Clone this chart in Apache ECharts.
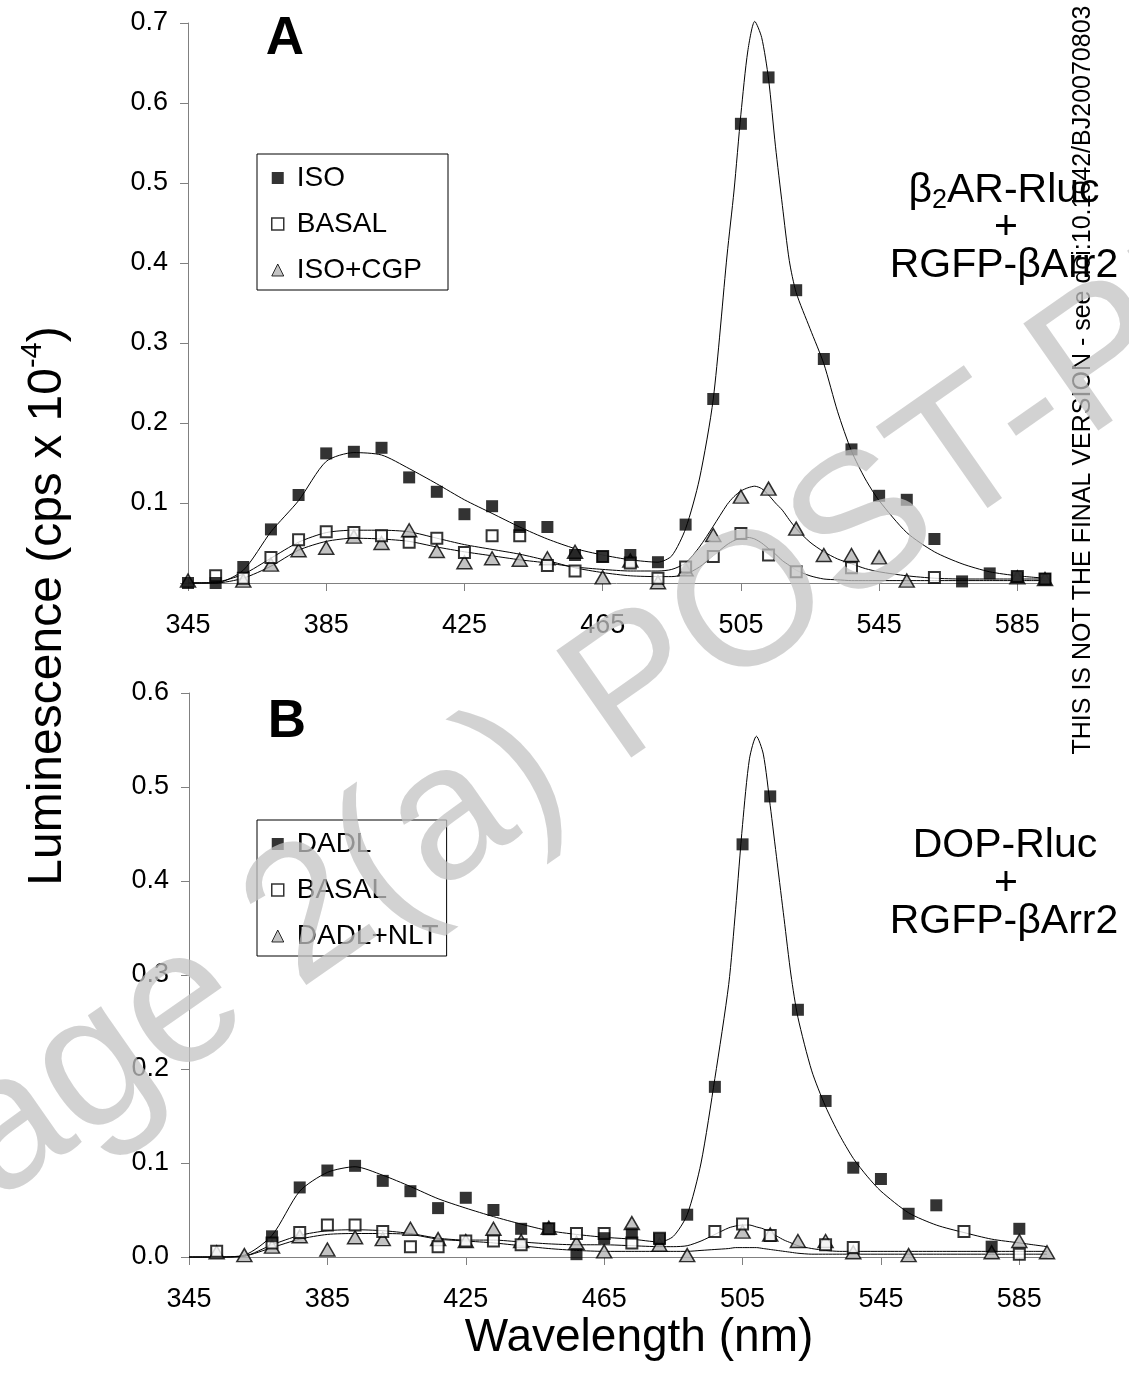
<!DOCTYPE html>
<html><head><meta charset="utf-8">
<script src="https://cdn.jsdelivr.net/npm/echarts@6/dist/echarts.min.js"></script>
<style>html,body{margin:0;padding:0;background:#fff}#c{width:1129px;height:1380px}</style>
</head><body><div id="c"></div>
<script>
const FONT = "'Liberation Sans', Arial, sans-serif";

// measured wavelengths (nm)
const wavelengths = [345,353,361,369,377,385,393,401,409,417,425,433,441,449,457,465,473,481,489,497,505,513,521,529,537,545,553,561,569,577,585,593];
const xTickLabels = [345,385,425,465,505,545,585];

// Panel A data points
const isoA     = [0.000,0.000,0.020,0.067,0.110,0.162,0.164,0.169,0.132,0.114,0.086,0.096,0.070,0.070,0.035,0.033,0.035,0.026,0.073,0.230,0.574,0.632,0.366,0.280,0.167,0.109,0.104,0.055,0.002,0.012,0.007,0.005];
const basalA   = [null,0.009,0.006,0.032,0.054,0.064,0.063,0.059,0.051,0.056,0.038,0.059,0.059,0.022,0.015,0.033,0.025,0.006,0.020,0.033,0.062,0.035,0.014,null,0.019,null,null,0.007,null,null,0.008,0.005];
const isoCgpA  = [0.003,null,0.003,0.023,0.041,0.044,0.058,0.050,0.066,0.040,0.026,0.031,0.029,0.031,0.039,0.007,0.028,0.001,0.017,0.060,0.108,0.118,0.068,0.035,0.035,0.032,0.003,null,null,null,0.007,0.005];

// Panel B data points
const dadlB    = [null,null,null,0.022,0.074,0.092,0.097,0.081,0.070,0.052,0.063,0.050,0.030,0.030,0.003,0.020,0.025,0.019,0.045,0.181,0.439,0.490,0.263,0.166,0.095,0.083,0.046,0.055,null,0.011,0.030,null];
const basalB   = [null,0.006,null,0.015,0.026,0.034,0.034,0.027,0.011,0.011,0.017,0.017,0.013,0.030,0.025,0.025,0.015,0.020,null,0.027,0.035,0.023,null,0.013,0.010,null,null,null,0.027,null,0.003,null];
const dadlNltB = [null,0.005,0.002,0.011,0.022,0.008,0.021,0.019,0.030,0.019,0.017,0.030,0.017,0.031,0.015,0.006,0.036,0.013,0.002,null,0.027,0.024,0.017,0.017,0.005,null,0.002,null,null,0.005,0.017,0.005];

// fitted curves
const fitWavelengths = [345,353,361,369,377,385,393,401,409,417,425,433,441,449,457,465,473,481,485,489,493,497,501,503,505,507,509,511,513,515,517,519,521,525,529,533,537,541,545,553,561,569,577,585,593];
const fitIsoA    = [0,0,0.016,0.064,0.103,0.152,0.163,0.160,0.143,0.124,0.104,0.087,0.070,0.055,0.043,0.035,0.029,0.026,0.034,0.068,0.130,0.230,0.410,0.490,0.586,0.665,0.702,0.682,0.630,0.546,0.472,0.403,0.363,0.318,0.274,0.214,0.165,0.130,0.103,0.063,0.039,0.024,0.014,0.009,0.006];
const fitBasalA  = [0,0.001,0.011,0.031,0.051,0.063,0.066,0.066,0.064,0.056,0.048,0.042,0.036,0.028,0.019,0.013,0.009,0.008,0.008,0.011,0.020,0.034,0.048,0.053,0.056,0.057,0.055,0.050,0.043,0.036,0.028,0.022,0.016,0.009,0.005,0.004,0.003,0.003,0.003,0.003,0.003,0.003,0.003,0.003,0.003];
const fitIsoCgpA = [0,0,0.006,0.021,0.041,0.052,0.056,0.055,0.052,0.045,0.039,0.034,0.029,0.025,0.020,0.017,0.015,0.015,0.017,0.025,0.045,0.071,0.098,0.108,0.115,0.119,0.121,0.118,0.110,0.100,0.091,0.079,0.068,0.051,0.039,0.030,0.024,0.018,0.014,0.009,0.006,0.005,0.005,0.005,0.005];
const fitDadlB   = [0,0,0.002,0.023,0.070,0.090,0.096,0.087,0.075,0.062,0.052,0.043,0.035,0.028,0.024,0.021,0.019,0.016,0.022,0.045,0.100,0.190,0.290,0.370,0.460,0.530,0.554,0.535,0.480,0.420,0.360,0.300,0.255,0.198,0.160,0.130,0.105,0.086,0.070,0.047,0.034,0.026,0.019,0.015,0.011];
const fitBasalB  = [0,0,0.001,0.013,0.023,0.028,0.029,0.028,0.025,0.020,0.018,0.018,0.016,0.014,0.013,0.013,0.012,0.011,0.011,0.012,0.017,0.024,0.031,0.033,0.034,0.034,0.032,0.030,0.026,0.022,0.018,0.015,0.012,0.009,0.007,0.006,0.006,0.006,0.006,0.006,0.006,0.006,0.006,0.006,0.006];
const fitDadlNltB= [0,0,0.001,0.010,0.019,0.024,0.025,0.025,0.024,0.019,0.017,0.015,0.012,0.009,0.007,0.006,0.006,0.006,0.006,0.006,0.007,0.008,0.009,0.010,0.010,0.010,0.010,0.009,0.008,0.007,0.006,0.005,0.004,0.003,0.003,0.003,0.003,0.003,0.003,0.003,0.003,0.003,0.003,0.003,0.003];

function pts(xs, ys){ const out=[]; xs.forEach((x,i)=>{ if(ys[i]!==null && ys[i]!==undefined) out.push([x, ys[i]]); }); return out; }

const SQ_FILLED = {symbol:'rect', symbolSize:12, itemStyle:{color:'#000'}};
const SQ_OPEN = {symbol:'rect', symbolSize:11, itemStyle:{color:'#fff', borderColor:'#000', borderWidth:2}};
const TRI = {symbol:'triangle', symbolSize:[15,13], itemStyle:{color:'#b4b4b4', borderColor:'#000', borderWidth:1.5}};

function scatter(name, gi, data, st){
  return Object.assign({type:'scatter', name, xAxisIndex:gi, yAxisIndex:gi, data, z:5, silent:true}, JSON.parse(JSON.stringify(st)));
}
function fit(name, gi, data){
  return {type:'line', name, xAxisIndex:gi, yAxisIndex:gi, data, showSymbol:false, symbol:'none', smooth:0.25, clip:false, z:3, silent:true,
    lineStyle:{color:'#000', width:1}};
}
function xAxisCfg(gi){
  return {type:'value', gridIndex:gi, min:345, max:593,
    axisLine:{show:true, onZero:false, lineStyle:{color:'#808080', width:1}},
    axisTick:{show:true, inside:false, length:8, lineStyle:{color:'#808080'}, customValues:xTickLabels},
    axisLabel:{show:true, customValues:xTickLabels, fontSize:27, color:'#000', margin:29, fontFamily:FONT},
    splitLine:{show:false}};
}
function yAxisCfg(gi, max, showZero){
  return {type:'value', gridIndex:gi, min:0, max:max, interval:0.1,
    axisLine:{show:true, lineStyle:{color:'#808080', width:1}},
    axisTick:{show:true, inside:false, length:8, lineStyle:{color:'#808080'}},
    axisLabel:{show:true, fontSize:27, color:'#000', margin:20, fontFamily:FONT,
      formatter:v=> (v===0 && !showZero) ? '' : v.toFixed(1)},
    splitLine:{show:false}};
}
function legendCfg(top, items, padRight){
  return {orient:'vertical', left:257, top:top, data:items, itemWidth:12, itemHeight:12, itemGap:18,
    padding:[10,padRight,6,14], borderColor:'#000', borderWidth:1, backgroundColor:'#fff', selectedMode:false,
    textStyle:{fontSize:28, fontFamily:FONT, color:'#000', lineHeight:28, padding:[0,0,0,8]}};
}
const LG_SQF = {icon:'rect', itemStyle:{color:'#000', borderWidth:0}};
const LG_SQO = {icon:'rect', itemStyle:{color:'#fff', borderColor:'#000', borderWidth:1.5}};
const LG_TRI = {icon:'triangle', itemStyle:{color:'#b4b4b4', borderColor:'#000', borderWidth:1}};

const WM = 'rgba(195,195,195,0.75)';
const option = {
  animation:false,
  backgroundColor:'#fff',
  grid:[
    {left:188, top:23, width:857, height:560},
    {left:189, top:693, width:858, height:564}
  ],
  xAxis:[xAxisCfg(0), xAxisCfg(1)],
  yAxis:[yAxisCfg(0,0.7,false), yAxisCfg(1,0.6,true)],
  legend:[
    legendCfg(154, [Object.assign({name:'ISO'},LG_SQF), Object.assign({name:'BASAL'},LG_SQO), Object.assign({name:'ISO+CGP'},LG_TRI)], 26),
    legendCfg(820, [Object.assign({name:'DADL'},LG_SQF), Object.assign({name:'BASAL'},LG_SQO), Object.assign({name:'DADL+NLT'},LG_TRI)], 8)
  ],
  series:[
    fit('fit ISO',0,pts(fitWavelengths,fitIsoA)),
    fit('fit BASAL A',0,pts(fitWavelengths,fitBasalA)),
    fit('fit ISO+CGP',0,pts(fitWavelengths,fitIsoCgpA)),
    fit('fit DADL',1,pts(fitWavelengths,fitDadlB)),
    fit('fit BASAL B',1,pts(fitWavelengths,fitBasalB)),
    fit('fit DADL+NLT',1,pts(fitWavelengths,fitDadlNltB)),
    scatter('ISO+CGP',0,pts(wavelengths,isoCgpA),TRI),
    scatter('BASAL',0,pts(wavelengths,basalA),SQ_OPEN),
    scatter('ISO',0,pts(wavelengths,isoA),SQ_FILLED),
    scatter('DADL+NLT',1,pts(wavelengths,dadlNltB),TRI),
    scatter('BASAL',1,pts(wavelengths,basalB),SQ_OPEN),
    scatter('DADL',1,pts(wavelengths,dadlB),SQ_FILLED)
  ],
  graphic:[
    {type:'text', x:45, y:606, rotation:Math.PI/2, z:10,
      style:{text:'{a|Luminescence (cps x 10}{s|-4}{a|)}', align:'center', verticalAlign:'middle',
        rich:{a:{fontSize:48, fontFamily:FONT, fill:'#000', lineHeight:54, verticalAlign:'bottom'},
              s:{fontSize:29, fontFamily:FONT, fill:'#000', lineHeight:54, verticalAlign:'top'}}}},
    {type:'text', x:639, y:1338, z:10, style:{text:'Wavelength (nm)', font:'46px '+FONT, fill:'#000', align:'center', verticalAlign:'middle'}},
    {type:'text', x:285, y:39, z:10, style:{text:'A', font:'bold 53px '+FONT, fill:'#000', align:'center', verticalAlign:'middle'}},
    {type:'text', x:287, y:722, z:10, style:{text:'B', font:'bold 53px '+FONT, fill:'#000', align:'center', verticalAlign:'middle'}},
    {type:'text', x:1004, y:192, z:10, style:{text:'{a|β}{b|2}{a|AR-Rluc}', align:'center', verticalAlign:'middle',
        rich:{a:{fontSize:41, fontFamily:FONT, fill:'#000', lineHeight:44, verticalAlign:'top'}, b:{fontSize:27, fontFamily:FONT, fill:'#000', lineHeight:44, verticalAlign:'bottom'}}}},
    {type:'text', x:1006, y:228, z:10, style:{text:'+', font:'41px '+FONT, fill:'#000', align:'center', verticalAlign:'middle'}},
    {type:'text', x:1004, y:266, z:10, style:{text:'RGFP-βArr2', font:'41px '+FONT, fill:'#000', align:'center', verticalAlign:'middle'}},
    {type:'text', x:1005, y:846, z:10, style:{text:'DOP-Rluc', font:'41px '+FONT, fill:'#000', align:'center', verticalAlign:'middle'}},
    {type:'text', x:1006, y:884, z:10, style:{text:'+', font:'41px '+FONT, fill:'#000', align:'center', verticalAlign:'middle'}},
    {type:'text', x:1004, y:922, z:10, style:{text:'RGFP-βArr2', font:'41px '+FONT, fill:'#000', align:'center', verticalAlign:'middle'}},
    {type:'text', x:1083, y:380, rotation:Math.PI/2, z:20, style:{text:'THIS IS NOT THE FINAL VERSION - see doi:10.1042/BJ20070803', font:'25px '+FONT, fill:'#000', align:'center', verticalAlign:'middle'}},
    {type:'text', x:692, y:651, rotation:35*Math.PI/180, z:30, style:{text:'Page 2(a) POST-PRINT', font:'190px '+FONT, fill:WM, align:'center', verticalAlign:'middle'}}
  ]
};
const chart = echarts.init(document.getElementById('c'), null, {renderer:'canvas'});
chart.setOption(option);
</script></body></html>
